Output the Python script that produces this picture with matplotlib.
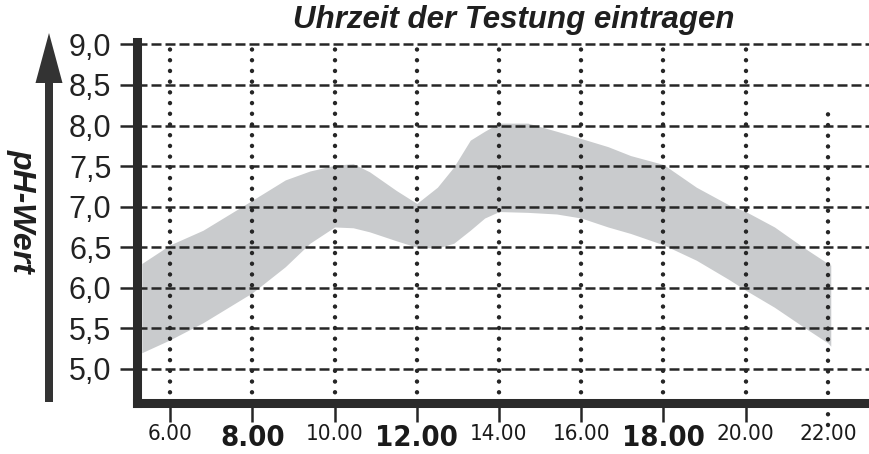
import matplotlib
matplotlib.use("Agg")
import matplotlib.pyplot as plt
from matplotlib import font_manager
from matplotlib.patches import FancyArrow
from matplotlib.transforms import IdentityTransform

# band (hour of day, pH)
hours = [5.31, 6.0, 6.8, 8.0, 8.8, 9.4, 10.0, 10.45, 10.85, 11.5, 12.0, 12.5, 12.9, 13.3,
         13.65, 14.0, 14.7, 15.4, 16.0, 16.65, 17.2, 18.0, 18.8, 19.6, 20.0, 20.7, 21.4,
         22.0, 22.07]
upper = [6.30, 6.53, 6.71, 7.08, 7.33, 7.44, 7.51, 7.53, 7.43, 7.20, 7.04, 7.24, 7.49, 7.82,
         7.93, 8.03, 8.03, 7.93, 7.84, 7.74, 7.63, 7.52, 7.24, 7.02, 6.94, 6.75, 6.50,
         6.30, 6.28]
lower = [5.20, 5.36, 5.57, 5.94, 6.26, 6.55, 6.75, 6.74, 6.69, 6.58, 6.50, 6.49, 6.55, 6.71,
         6.86, 6.94, 6.93, 6.91, 6.86, 6.75, 6.67, 6.53, 6.34, 6.10, 5.97, 5.76, 5.52,
         5.32, 5.28]

x_ticks = [6, 8, 10, 12, 14, 16, 18, 20, 22]
x_labels = ["6.00", "8.00", "10.00", "12.00", "14.00", "16.00", "18.00", "20.00", "22.00"]
x_bold = ["8.00", "12.00", "18.00"]
y_ticks = [5.0, 5.5, 6.0, 6.5, 7.0, 7.5, 8.0, 8.5, 9.0]
y_labels = ["5,0", "5,5", "6,0", "6,5", "7,0", "7,5", "8,0", "8,5", "9,0"]

title = "Uhrzeit der Testung eintragen"
ylabel = "pH-Wert"

dark = "#262626"

# look for a condensed face for the x labels
cond = None
for f in font_manager.fontManager.ttflist:
    nm = f.name.lower()
    if ("narrow" in nm or "condensed" in nm or f.stretch in ("condensed", "semi-condensed")) \
            and "mono" not in nm and "serif" not in nm:
        cond = f
        break
if cond is not None:
    lab_props = dict(family=cond.name, stretch=cond.stretch)
    small_size, big_size = 16, 21
else:
    lab_props = dict(family="Roboto")
    small_size, big_size = 15, 20

fig = plt.figure(figsize=(8.69, 4.54), dpi=100)
ax = fig.add_axes([0.158, 0.1123, 0.842, 0.7952])
ax.set_xlim(5.2, 23.0)
ax.set_ylim(4.58, 9.03)

# grey band
ax.fill_between(hours, lower, upper, color="#c9cbcd", lw=0, zorder=1)

# dashed horizontal grid
for yv in y_ticks:
    ax.axhline(yv, color=dark, lw=1.8, ls=(0, (4, 1.6)), zorder=2)

# dotted vertical grid
for xv in x_ticks[:-1]:
    ax.plot([xv, xv], [4.58, 8.96], color=dark, lw=3.2, ls=(0, (0.01, 2.4)),
            dash_capstyle="round", zorder=3)
ax.plot([x_ticks[-1]] * 2, [4.31, 8.22], color=dark, lw=3.2, ls=(0, (0.01, 2.4)),
        dash_capstyle="round", zorder=3, clip_on=False)

for s in ["top", "right"]:
    ax.spines[s].set_visible(False)
for s in ["left", "bottom"]:
    ax.spines[s].set_linewidth(6.5)
    ax.spines[s].set_color("#2b2b2b")
    ax.spines[s].set_capstyle("projecting")
    ax.spines[s].set_zorder(5)

ax.set_yticks(y_ticks)
ax.set_yticklabels(y_labels, fontsize=22, family="Liberation Sans", color="#222222")
ax.tick_params(axis="y", length=12.6, width=1.8, color=dark, pad=6)

ax.set_xticks(x_ticks)
ax.set_xticklabels(x_labels)
ax.tick_params(axis="x", length=13.7, width=1.8, color=dark, pad=1.5)
for lab in ax.get_xticklabels():
    if lab.get_text() in x_bold:
        lab.set_fontsize(big_size)
        lab.set_fontweight("bold")
    else:
        lab.set_fontsize(small_size)
    lab.set_family(lab_props["family"])
    if "stretch" in lab_props:
        lab.set_stretch(lab_props["stretch"])
    lab.set_color("#1a1a1a")
ax.xaxis.get_major_ticks()[-1].tick1line.set_visible(False)

fig.text(0.591, 0.957, title, fontsize=22.5, fontweight="bold", style="italic",
         family="Liberation Sans", ha="center", va="center", color="#1f1f1f")
fig.text(0.025, 0.535, ylabel, fontsize=23, fontweight="bold", style="italic",
         family="Liberation Sans", rotation=270, ha="center", va="center", color="#1f1f1f")

# arrow next to the y label
fig.add_artist(FancyArrow(49, 52, 0, 369, width=8, head_width=27, head_length=50,
                          length_includes_head=True, color="#333333", lw=0,
                          transform=IdentityTransform()))

fig.savefig("out.png", dpi=100)
